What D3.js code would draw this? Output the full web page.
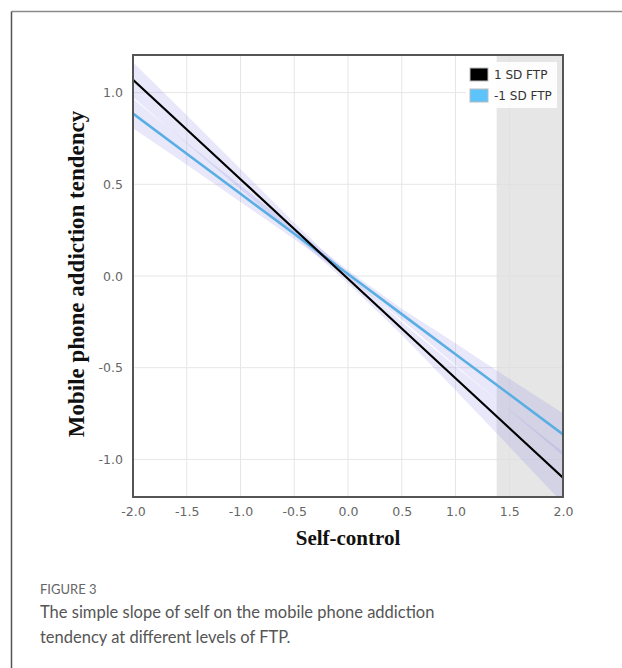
<!DOCTYPE html>
<html><head><meta charset="utf-8">
<script src="https://cdn.jsdelivr.net/npm/d3@7"></script>
<style>body{margin:0;background:#fff;} svg{display:block;}</style>
</head><body>
<svg id="c" width="622" height="668"></svg>
<script>
// ---- data ----
const xTicks = [-2.0,-1.5,-1.0,-0.5,0.0,0.5,1.0,1.5,2.0];
const yTicks = [-1.0,-0.5,0.0,0.5,1.0];
const xs = [-2,-1.5,-1,-0.5,0,0.5,1,1.5,2];
const highFTP = [1.07,0.799,0.5275,0.256,-0.015,-0.286,-0.5575,-0.829,-1.10];
const highUpper = [1.165,0.876,0.583,0.291,0.010,-0.251,-0.4925,-0.729,-0.96];
const highLower = [0.975,0.722,0.473,0.221,-0.040,-0.321,-0.6225,-0.929,-1.24];
const lowFTP = [0.886,0.667,0.4485,0.230,0.011,-0.208,-0.4265,-0.645,-0.864];
const lowUpper = [0.966,0.727,0.494,0.260,0.031,-0.178,-0.3665,-0.560,-0.749];
const lowLower = [0.806,0.607,0.404,0.200,-0.009,-0.238,-0.4865,-0.730,-0.979];
const regionStart = 1.383, regionEnd = 2.0;
const seriesNames = ["1 SD FTP","-1 SD FTP"];
const seriesColors = ["#000000","#5aaee4"];
const swatchColors = ["#000000","#5cc4fb"];

const fmt = d => d.toFixed(1);
const svg = d3.select("#c");
// outer card frame
svg.append("line").attr("x1",11.5).attr("x2",622).attr("y1",11.5).attr("y2",11.5).attr("stroke","#8a8a8a").attr("stroke-width",1.5);
svg.append("line").attr("x1",11.5).attr("x2",11.5).attr("y1",11.5).attr("y2",668).attr("stroke","#555").attr("stroke-width",1.5);

const L=133,R=563,T=55,B=497;
const x = d3.scaleLinear().domain([-2,2]).range([L,R]);
const y = d3.scaleLinear().domain([-1.205,1.205]).range([B,T]);

svg.append("defs").append("clipPath").attr("id","pc").append("rect").attr("x",L).attr("y",T).attr("width",R-L).attr("height",B-T);
const g = svg.append("g").attr("clip-path","url(#pc)");

// grid
g.selectAll(".gx").data(xTicks).enter().append("line").attr("x1",d=>x(d)).attr("x2",d=>x(d)).attr("y1",T).attr("y2",B).attr("stroke","#e6e6e6").attr("stroke-width",1);
g.selectAll(".gy").data(yTicks).enter().append("line").attr("y1",d=>y(d)).attr("y2",d=>y(d)).attr("x1",L).attr("x2",R).attr("stroke","#e6e6e6").attr("stroke-width",1);

// shaded region
g.append("rect").attr("x",x(regionStart)).attr("y",T).attr("width",x(regionEnd)-x(regionStart)).attr("height",B-T).attr("fill","#dcdcdc").attr("opacity",0.72);

// bands
const area = (lo,hi)=> d3.area().x((d,i)=>x(xs[i])).y0((d,i)=>y(lo[i])).y1((d,i)=>y(hi[i]))(xs);
g.append("path").attr("d",area(highLower,highUpper)).attr("fill","rgb(110,110,225)").attr("opacity",0.16);
g.append("path").attr("d",area(lowLower,lowUpper)).attr("fill","rgb(110,110,225)").attr("opacity",0.16);

// lines
const line = arr => d3.line().x((d,i)=>x(xs[i])).y((d,i)=>y(arr[i]))(xs);
g.append("path").attr("d",line(lowFTP)).attr("fill","none").attr("stroke",seriesColors[1]).attr("stroke-width",2.6);
g.append("path").attr("d",line(highFTP)).attr("fill","none").attr("stroke",seriesColors[0]).attr("stroke-width",2.2);

// frame
svg.append("rect").attr("x",L).attr("y",T).attr("width",R-L).attr("height",B-T).attr("fill","none").attr("stroke","#555").attr("stroke-width",2);

// axes
const xAxis = d3.axisBottom(x).tickValues(xTicks).tickFormat(fmt).tickSize(0).tickPadding(10);
const xa = svg.append("g").attr("transform",`translate(0,${B})`).call(xAxis);
const yAxis = d3.axisLeft(y).tickValues(yTicks).tickFormat(fmt).tickSize(0).tickPadding(10);
const ya = svg.append("g").attr("transform",`translate(${L},0)`).call(yAxis);
[xa,ya].forEach(a=>{a.select(".domain").remove();a.selectAll("text").attr("fill","#666").style("font-family","DejaVu Sans, Verdana, sans-serif").style("font-size","12.5px");});

// axis titles
svg.append("text").attr("x",348).attr("y",545).attr("text-anchor","middle").style("font-family","Liberation Serif, Times New Roman, serif").style("font-weight","bold").style("font-size","21px").attr("fill","#111").text("Self-control");
svg.append("text").attr("transform","translate(84,274) rotate(-90)").attr("text-anchor","middle").style("font-family","Liberation Serif, Times New Roman, serif").style("font-weight","bold").style("font-size","23px").attr("fill","#111").text("Mobile phone addiction tendency");

// legend
const lg = svg.append("g");
lg.append("rect").attr("x",466).attr("y",62).attr("width",91).attr("height",46).attr("fill","#fff").attr("opacity",0.9);
seriesNames.forEach((n,i)=>{
  lg.append("rect").attr("x",470).attr("y",68+i*21).attr("width",18).attr("height",13).attr("fill",swatchColors[i]).attr("stroke","#bbb").attr("stroke-width",1);
  lg.append("text").attr("x",494).attr("y",79+i*21).style("font-family","DejaVu Sans, Verdana, sans-serif").style("font-size","12px").attr("fill","#333").text(n);
});

// caption
svg.append("text").attr("x",40).attr("y",594).style("font-family","Lato, sans-serif").style("font-size","13px").attr("fill","#666").text("FIGURE 3");
svg.append("text").attr("x",40).attr("y",618).style("font-family","Lato, sans-serif").style("font-size","16.5px").attr("fill","#555").text("The simple slope of self on the mobile phone addiction");
svg.append("text").attr("x",40).attr("y",643).style("font-family","Lato, sans-serif").style("font-size","16.5px").attr("fill","#555").text("tendency at different levels of FTP.");
</script>
</body></html>
